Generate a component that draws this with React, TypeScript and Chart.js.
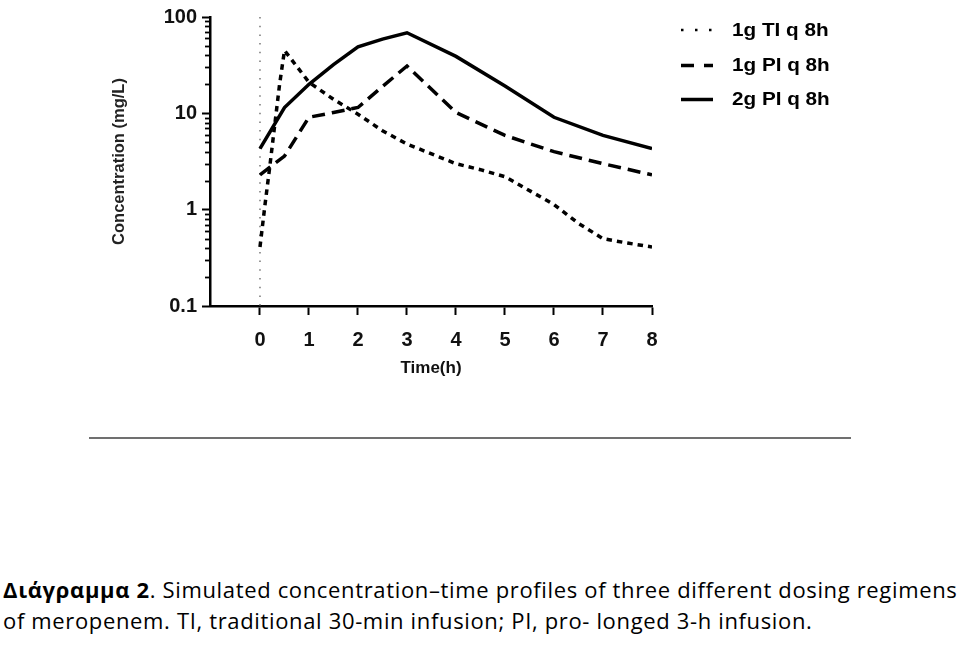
import React, { useEffect, useRef } from 'react';
import { Chart, registerables } from 'chart.js';

Chart.register(...registerables);

// ---- data ----
const TIME_TI = [0, 0.1, 0.2, 0.3, 0.4, 0.5, 1, 1.5, 2, 2.5, 3, 4, 4.5, 5, 6, 6.5, 7, 7.5, 8];
const CONC_TI_1G = [0.41, 1.1, 2.8, 7.5, 20, 45, 21, 14, 9.8, 6.6, 4.8, 3.0, 2.6, 2.2, 1.13, 0.72, 0.5, 0.45, 0.41];
const TIME_PI = [0, 0.5, 1, 1.5, 2, 2.5, 3, 4, 5, 6, 7, 8];
const CONC_PI_1G = [2.3, 3.6, 9.1, 10.2, 11.5, 19, 31, 10.2, 5.9, 4.0, 3.0, 2.3];
const CONC_PI_2G = [4.3, 11.5, 20, 32, 49, 59, 68.6, 39, 19.2, 9.1, 5.9, 4.3];
const SERIES_LABELS = ['1g TI q 8h', '1g PI q 8h', '2g PI q 8h'];
const X_TICKS = [0, 1, 2, 3, 4, 5, 6, 7, 8];
const Y_TICKS = [0.1, 1, 10, 100];
const Y_TICK_LABELS = ['0.1', '1', '10', '100'];
const Y_MINOR = [0.2, 0.3, 0.4, 0.5, 0.6, 0.7, 0.8, 0.9, 2, 3, 4, 5, 6, 7, 8, 9, 20, 30, 40, 50, 60, 70, 80, 90];
const DOSE_TIME = 0;
const X_TITLE = 'Time(h)';
const Y_TITLE = 'Concentration (mg/L)';
const CAPTION_BOLD = 'Διάγραμμα 2';
const CAPTION_REST_1 = '. Simulated concentration–time profiles of three different dosing regimens';
const CAPTION_LINE_2 = 'of meropenem. TI, traditional 30-min infusion; PI, pro- longed 3-h infusion.';

const FONT = '"Liberation Sans", Arial, sans-serif';

const toPoints = (xs: number[], ys: number[]) => xs.map((x, i) => ({ x, y: ys[i] }));

const LEGEND_STYLES = [
  { dash: [2.5, 11.5], width: 2.5 },
  { dash: [13, 10], width: 3.5 },
  { dash: [], width: 3.5 },
];

const minorTicksPlugin = {
  id: 'minorTicks',
  afterDraw(chart: any) {
    const y = chart.scales.y;
    const ctx = chart.ctx;
    ctx.save();
    ctx.strokeStyle = '#000';
    ctx.lineWidth = 1.8;
    Y_MINOR.forEach((v) => {
      const py = Math.round(y.getPixelForValue(v)) + 0.5;
      ctx.beginPath();
      ctx.moveTo(y.right - 5, py);
      ctx.lineTo(y.right, py);
      ctx.stroke();
    });
    ctx.restore();
  },
};

const doseLinePlugin = {
  id: 'doseLine',
  beforeDatasetsDraw(chart: any) {
    const { ctx, chartArea, scales } = chart;
    const px = scales.x.getPixelForValue(DOSE_TIME);
    ctx.save();
    ctx.strokeStyle = '#777';
    ctx.lineWidth = 1.5;
    ctx.setLineDash([1.5, 7.2]);
    ctx.beginPath();
    ctx.moveTo(px, chartArea.top);
    ctx.lineTo(px, chartArea.bottom);
    ctx.stroke();
    ctx.restore();
  },
};

const legendPlugin = {
  id: 'customLegend',
  afterDraw(chart: any) {
    const ctx = chart.ctx;
    const rows = [30, 65.5, 99.5];
    ctx.save();
    chart.data.datasets.forEach((ds: any, i: number) => {
      const st = LEGEND_STYLES[i];
      const y = rows[i];
      ctx.strokeStyle = '#000';
      ctx.lineWidth = st.width;
      ctx.setLineDash(st.dash);
      ctx.beginPath();
      ctx.moveTo(681, y);
      ctx.lineTo(713, y);
      ctx.stroke();
      ctx.setLineDash([]);
      ctx.save();
      ctx.translate(732, y + 1);
      ctx.scale(1.15, 1);
      ctx.fillStyle = '#000';
      ctx.font = `bold 18px ${FONT}`;
      ctx.textBaseline = 'middle';
      ctx.textAlign = 'left';
      ctx.fillText(ds.label, 0, 0);
      ctx.restore();
    });
    ctx.restore();
  },
};

function ConcentrationChart() {
  const ref = useRef<HTMLCanvasElement | null>(null);
  useEffect(() => {
    if (!ref.current) return;
    const chart = new Chart(ref.current, {
      type: 'line',
      data: {
        datasets: [
          {
            label: SERIES_LABELS[0],
            data: toPoints(TIME_TI, CONC_TI_1G),
            borderColor: '#000',
            borderWidth: 3.5,
            borderDash: [5.5, 5],
            pointRadius: 0,
            tension: 0,
            fill: false,
          },
          {
            label: SERIES_LABELS[1],
            data: toPoints(TIME_PI, CONC_PI_1G),
            borderColor: '#000',
            borderWidth: 3.5,
            borderDash: [13, 7],
            pointRadius: 0,
            tension: 0,
            fill: false,
          },
          {
            label: SERIES_LABELS[2],
            data: toPoints(TIME_PI, CONC_PI_2G),
            borderColor: '#000',
            borderWidth: 3.5,
            pointRadius: 0,
            tension: 0,
            fill: false,
          },
        ],
      },
      options: {
        animation: false,
        responsive: false,
        devicePixelRatio: 1,
        layout: { padding: { top: 13, right: 307, left: 0, bottom: 0 } },
        plugins: { legend: { display: false }, tooltip: { enabled: false } },
        scales: {
          x: {
            type: 'linear',
            min: -1.02,
            max: 8,
            afterBuildTicks: (s: any) => {
              s.ticks = X_TICKS.map((v) => ({ value: v }));
            },
            afterFit: (s: any) => {
              s.height = 94;
            },
            grid: { display: true, drawOnChartArea: false, drawTicks: true, tickLength: 9, tickWidth: 2, tickColor: '#000' },
            border: { display: true, color: '#000', width: 2.5 },
            ticks: { font: { family: FONT, size: 20, weight: 'bold' }, color: '#111', padding: 13, maxRotation: 0, autoSkip: false },
            title: { display: true, text: X_TITLE, color: '#111', font: { family: FONT, size: 17, weight: 'bold' }, padding: { top: 0, bottom: 21 } },
          },
          y: {
            type: 'logarithmic',
            min: 0.1,
            max: 100,
            afterBuildTicks: (s: any) => {
              s.ticks = Y_TICKS.map((v) => ({ value: v }));
            },
            afterFit: (s: any) => {
              s.width = 210;
            },
            grid: { display: true, drawOnChartArea: false, drawTicks: true, tickLength: 8, tickWidth: 2, tickColor: '#000' },
            border: { display: true, color: '#000', width: 2.5 },
            ticks: {
              font: { family: FONT, size: 20, weight: 'bold' },
              color: '#111',
              padding: 5,
              autoSkip: false,
              callback: (_v: any, i: number) => Y_TICK_LABELS[i],
            },
            title: { display: true, text: Y_TITLE, color: '#222', font: { family: FONT, size: 16.5, weight: 'bold' }, padding: { top: 110, bottom: 0 } },
          },
        },
      } as any,
      plugins: [minorTicksPlugin, doseLinePlugin, legendPlugin],
    });
    return () => chart.destroy();
  }, []);
  return <canvas ref={ref} width={959} height={400} style={{ position: 'absolute', left: 0, top: 0, width: 959, height: 400 }} />;
}

export default function App() {
  return (
    <div style={{ position: 'absolute', left: 0, top: 0, width: 959, height: 647, background: '#fff', overflow: 'hidden' }}>
      <ConcentrationChart />
      <div style={{ position: 'absolute', left: 89, top: 437, width: 762, height: 2, background: '#707070' }} />
      <div
        style={{
          position: 'absolute',
          left: 3,
          top: 574,
          width: 1000,
          fontFamily: '"Open Sans", sans-serif',
          fontSize: 22,
          lineHeight: '31px',
          letterSpacing: '0.65px',
          color: '#000',
          whiteSpace: 'nowrap',
        }}
      >
        <div>
          <b>{CAPTION_BOLD}</b>
          {CAPTION_REST_1}
        </div>
        <div>{CAPTION_LINE_2}</div>
      </div>
    </div>
  );
}
